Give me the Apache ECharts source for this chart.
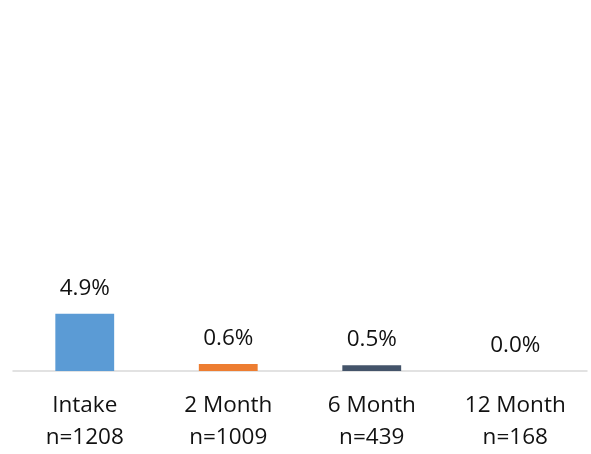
<!DOCTYPE html>
<html>
<head>
<meta charset="utf-8">
<script src="https://cdn.jsdelivr.net/npm/echarts@6/dist/echarts.min.js"></script>
<style>
  html, body { margin: 0; padding: 0; background: #fff; }
  #chart { width: 591px; height: 454px; }
</style>
</head>
<body>
<div id="chart"></div>
<script>
// Follow-up time points with sample sizes
const categories = ['Intake', '2 Month', '6 Month', '12 Month'];
const sampleSizes = [1208, 1009, 439, 168];
// Percentage at each time point
const values = [4.9, 0.6, 0.5, 0.0];
const barColors = ['#5B9BD5', '#ED7D31', '#44546A', '#A5A5A5'];

const FONT = '"Open Sans", sans-serif';

const chart = echarts.init(document.getElementById('chart'));
chart.setOption({
  animation: false,
  backgroundColor: '#ffffff',
  grid: { left: 13, right: 4, top: 20, bottom: 79, containLabel: false },
  xAxis: {
    type: 'category',
    data: categories.map((c, i) => c + '\nn=' + sampleSizes[i]),
    axisLine: { show: true, lineStyle: { color: '#D9D9D9', width: 1.5 } },
    axisTick: { show: false },
    axisLabel: {
      interval: 0,
      margin: 19,
      color: '#111111',
      fontFamily: FONT,
      fontSize: 22.5,
      lineHeight: 32
    }
  },
  yAxis: {
    type: 'value',
    min: 0,
    max: 30,
    show: false
  },
  series: [{
    type: 'bar',
    barWidth: '41%',
    data: values.map((v, i) => ({ value: v, itemStyle: { color: barColors[i] } })),
    label: {
      show: true,
      position: 'top',
      distance: 14,
      color: '#111111',
      fontFamily: FONT,
      fontSize: 22.5,
      formatter: p => p.value.toFixed(1) + '%'
    }
  }]
});
</script>
</body>
</html>
